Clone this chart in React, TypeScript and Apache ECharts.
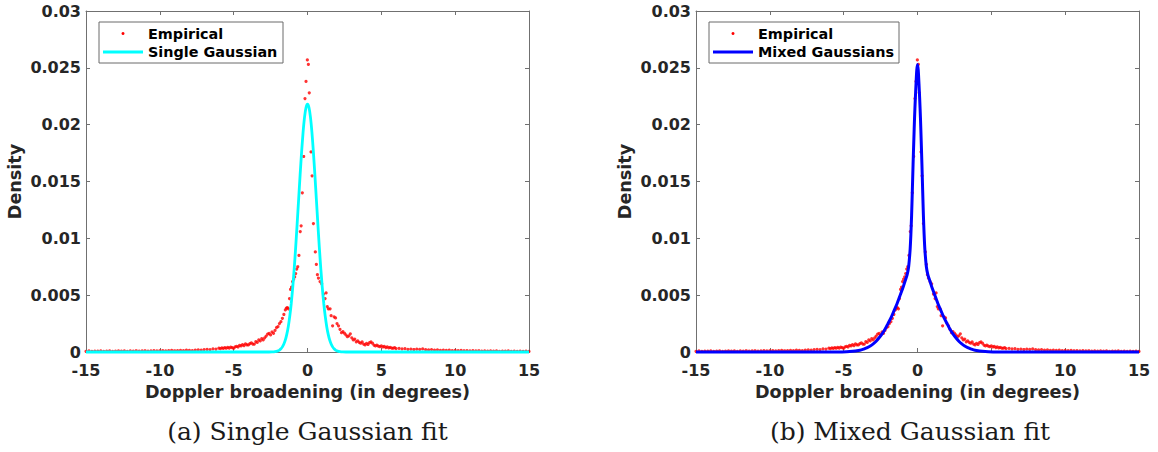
import React, { useEffect, useRef } from "react";
import * as echarts from "echarts";

// ---------- data ----------
const X_TICKS_MIN = -15;
const X_TICKS_MAX = 15;
const X_INTERVAL = 5;
const Y_MIN = 0;
const Y_MAX = 0.03;
const Y_INTERVAL = 0.005;

const X_TITLE = "Doppler broadening (in degrees)";
const Y_TITLE = "Density";
const CAPTIONS = ["(a) Single Gaussian fit", "(b) Mixed Gaussian fit"];
const LEGEND_EMPIRICAL = "Empirical";
const FIT_NAMES = ["Single Gaussian", "Mixed Gaussians"];

// empirical density points [degrees, density]
const empiricalLeftTail: number[][] = [
  [-15.0, 0.00006], [-14.8, 0.00009], [-14.6, 0.00005], [-14.4, 0.00008], [-14.2, 0.00007],
  [-14.0, 0.0001], [-13.8, 0.00006], [-13.6, 0.00008], [-13.4, 0.00009], [-13.2, 0.00005],
  [-13.0, 0.00008], [-12.8, 0.0001], [-12.6, 0.00007], [-12.4, 0.00009], [-12.2, 0.00006],
  [-12.0, 0.0001], [-11.8, 0.00008], [-11.6, 0.00011], [-11.4, 0.00007], [-11.2, 0.00009],
  [-11.0, 0.00011], [-10.8, 0.00008], [-10.6, 0.0001], [-10.4, 0.00012], [-10.2, 0.00009],
  [-10.0, 0.00011], [-9.8, 0.00013], [-9.6, 0.0001], [-9.4, 0.00012], [-9.2, 0.00014],
  [-9.0, 0.00011], [-8.8, 0.00013], [-8.6, 0.00015], [-8.4, 0.00012], [-8.2, 0.00016],
  [-8.0, 0.00014], [-7.8, 0.00012], [-7.6, 0.00017], [-7.4, 0.00019], [-7.2, 0.00016],
  [-7.0, 0.00021], [-6.8, 0.00024], [-6.6, 0.0002], [-6.4, 0.00028], [-6.2, 0.00026],
];
const empiricalLeftShoulder: number[][] = [
  [-6.0, 0.00034], [-5.9, 0.0003], [-5.8, 0.00036], [-5.7, 0.00032], [-5.6, 0.00038],
  [-5.5, 0.00033], [-5.4, 0.0004], [-5.3, 0.00035], [-5.2, 0.00042], [-5.1, 0.00039],
  [-5.0, 0.00033], [-4.9, 0.00046], [-4.8, 0.0005], [-4.7, 0.00044], [-4.6, 0.00058],
  [-4.5, 0.00053], [-4.4, 0.00064], [-4.3, 0.00056], [-4.2, 0.00071], [-4.1, 0.00062],
  [-4.0, 0.00062], [-3.9, 0.00074], [-3.8, 0.00081], [-3.7, 0.0007], [-3.6, 0.0007],
  [-3.5, 0.00092], [-3.4, 0.00084], [-3.3, 0.00106], [-3.2, 0.00097], [-3.1, 0.00118],
  [-3.0, 0.00106], [-2.9, 0.00125], [-2.8, 0.0014], [-2.7, 0.00158], [-2.6, 0.00164],
  [-2.5, 0.0015], [-2.4, 0.00176], [-2.3, 0.00164], [-2.2, 0.0019], [-2.1, 0.00215],
  [-2.0, 0.00223], [-1.9, 0.0025], [-1.8, 0.00267], [-1.7, 0.00296], [-1.6, 0.0033],
];
const empiricalCore: number[][] = [
  [-1.5, 0.0037], [-1.43, 0.00385], [-1.36, 0.0039], [-1.29, 0.0038], [-1.22, 0.0047],
  [-1.15, 0.0055], [-1.08, 0.0057], [-1.01, 0.0062], [-0.94, 0.0064], [-0.87, 0.0066],
  [-0.8, 0.0069], [-0.73, 0.0073], [-0.66, 0.0075], [-0.58, 0.0085], [-0.49, 0.0106],
  [-0.43, 0.0111], [-0.35, 0.014], [-0.26, 0.0172], [-0.17, 0.0223], [-0.1, 0.0238],
  [-0.01, 0.0257], [0.06, 0.0253], [0.12, 0.0228], [0.24, 0.0176], [0.31, 0.0155],
  [0.4, 0.0113], [0.53, 0.0088], [0.6, 0.0077], [0.67, 0.0068], [0.74, 0.0065],
  [0.85, 0.0062], [0.96, 0.006], [1.08, 0.0051], [1.19, 0.0047], [1.26, 0.0052],
  [1.34, 0.004], [1.41, 0.0038], [1.53, 0.0038],
];
const empiricalRightShoulder: number[][] = [
  [1.6, 0.0032], [1.7, 0.0023], [1.8, 0.0031], [1.9, 0.003], [2.0, 0.0025],
  [2.1, 0.0023], [2.2, 0.002], [2.3, 0.0017], [2.4, 0.0018], [2.5, 0.00165],
  [2.6, 0.0015], [2.7, 0.00135], [2.8, 0.00142], [2.9, 0.0016], [3.0, 0.00125],
  [3.1, 0.00106], [3.2, 0.00114], [3.3, 0.0009], [3.4, 0.00098], [3.5, 0.00085],
  [3.6, 0.00077], [3.7, 0.00089], [3.8, 0.0007], [3.9, 0.00062], [4.0, 0.00075],
  [4.1, 0.00066], [4.2, 0.00082], [4.3, 0.0009], [4.4, 0.00077], [4.5, 0.00061],
  [4.6, 0.00053], [4.7, 0.0006], [4.8, 0.00051], [4.9, 0.00047], [5.0, 0.00054],
  [5.1, 0.00044], [5.2, 0.00049], [5.3, 0.00039], [5.4, 0.00045], [5.5, 0.00037],
  [5.6, 0.00041], [5.7, 0.00035], [5.8, 0.00033], [5.9, 0.00038], [6.0, 0.0003],
];
const empiricalRightTail: number[][] = [
  [6.2, 0.00032], [6.4, 0.00027], [6.6, 0.00029], [6.8, 0.00024], [7.0, 0.00026],
  [7.2, 0.00022], [7.4, 0.00025], [7.6, 0.00023], [7.8, 0.00027], [8.0, 0.0002],
  [8.2, 0.00018], [8.4, 0.00021], [8.6, 0.00017], [8.8, 0.00019], [9.0, 0.00015],
  [9.2, 0.00017], [9.4, 0.00014], [9.6, 0.00016], [9.8, 0.00013], [10.0, 0.00015],
  [10.2, 0.00012], [10.4, 0.00014], [10.6, 0.00011], [10.8, 0.00013], [11.0, 0.0001],
  [11.2, 0.00012], [11.4, 0.00009], [11.6, 0.00011], [11.8, 0.00008], [12.0, 0.0001],
  [12.2, 0.00008], [12.4, 0.00009], [12.6, 0.00007], [12.8, 0.00009], [13.0, 0.00006],
  [13.2, 0.00008], [13.4, 0.00007], [13.6, 0.00009], [13.8, 0.00006], [14.0, 0.00008],
  [14.2, 0.00005], [14.4, 0.00007], [14.6, 0.00006], [14.8, 0.00008], [15.0, 0.00005],
];

// fitted single Gaussian curve [degrees, density]
const singleGaussian: number[][] = [
  [-15, 0], [-3, 0], [-2.6, 0.000002], [-2.4, 0.000009], [-2.2, 0.000033], [-2.0, 0.0001],
  [-1.9, 0.00017], [-1.8, 0.00028], [-1.7, 0.00045], [-1.6, 0.0007], [-1.5, 0.00106],
  [-1.4, 0.00157], [-1.3, 0.00225], [-1.2, 0.00315], [-1.1, 0.00429], [-1.0, 0.00569],
  [-0.9, 0.00734], [-0.8, 0.00923], [-0.7, 0.01129], [-0.6, 0.01344], [-0.5, 0.01558],
  [-0.4, 0.01758], [-0.3, 0.01932], [-0.2, 0.02066], [-0.1, 0.02151], [0, 0.0218],
  [0.1, 0.02151], [0.2, 0.02066], [0.3, 0.01932], [0.4, 0.01758], [0.5, 0.01558],
  [0.6, 0.01344], [0.7, 0.01129], [0.8, 0.00923], [0.9, 0.00734], [1.0, 0.00569],
  [1.1, 0.00429], [1.2, 0.00315], [1.3, 0.00225], [1.4, 0.00157], [1.5, 0.00106],
  [1.6, 0.0007], [1.7, 0.00045], [1.8, 0.00028], [1.9, 0.00017], [2.0, 0.0001],
  [2.2, 0.000033], [2.4, 0.000009], [2.6, 0.000002], [3, 0], [15, 0],
];

// fitted mixture-of-Gaussians curve [degrees, density]
const mixedGaussians: number[][] = [
  [-15, 0], [-6.5, 0], [-5.5, 0.000005], [-4.8, 0.000025], [-4.4, 0.00006], [-4.0, 0.00013],
  [-3.8, 0.00019], [-3.6, 0.00028], [-3.4, 0.00039], [-3.2, 0.00053], [-3.0, 0.00072],
  [-2.8, 0.00095], [-2.6, 0.00125], [-2.4, 0.0016], [-2.2, 0.002], [-2.0, 0.0025],
  [-1.8, 0.003], [-1.6, 0.0036], [-1.4, 0.0042], [-1.2, 0.0049], [-1.0, 0.0056],
  [-0.9, 0.006], [-0.8, 0.0064], [-0.7, 0.0068], [-0.6, 0.0075], [-0.5, 0.009],
  [-0.45, 0.0103], [-0.4, 0.012], [-0.35, 0.0142], [-0.3, 0.0165], [-0.25, 0.0186],
  [-0.2, 0.0206], [-0.15, 0.0222], [-0.1, 0.0236], [-0.05, 0.0248], [0, 0.0253],
  [0.05, 0.0248], [0.1, 0.0236], [0.15, 0.0222], [0.2, 0.0206], [0.25, 0.0186],
  [0.3, 0.0165], [0.35, 0.0142], [0.4, 0.012], [0.45, 0.0103], [0.5, 0.009],
  [0.6, 0.0075], [0.7, 0.0068], [0.8, 0.0064], [0.9, 0.006], [1.0, 0.0056],
  [1.2, 0.0049], [1.4, 0.0042], [1.6, 0.0036], [1.8, 0.003], [2.0, 0.0025],
  [2.2, 0.002], [2.4, 0.0016], [2.6, 0.00125], [2.8, 0.00095], [3.0, 0.00072],
  [3.2, 0.00053], [3.4, 0.00039], [3.6, 0.00028], [3.8, 0.00019], [4.0, 0.00013],
  [4.4, 0.00006], [4.8, 0.000025], [5.5, 0.000005], [6.5, 0], [15, 0],
];

// ---------- styling ----------
const AXIS_COLOR = "#707070";
const TEXT_COLOR = "#262626";
const SANS = '"DejaVu Sans", sans-serif';
const SERIF = '"DejaVu Serif", serif';
const FIT_COLORS = ["#00ffff", "#0000ff"];
const FIT_WIDTHS = [2.8, 3];
const EMP_COLOR = "#ff0000";

const GRID_LEFTS = [86, 696];
const GRID_TOP = 11;
const GRID_W = 443;
const GRID_H = 341;
const CAPTION_X = [307.5, 910];

const empirical = [
  ...empiricalLeftTail,
  ...empiricalLeftShoulder,
  ...empiricalCore,
  ...empiricalRightShoulder,
  ...empiricalRightTail,
];

function yFmt(v: number) {
  return String(Number(v.toFixed(3)));
}

function buildOption() {
  const grids = GRID_LEFTS.map((l) => ({
    left: l,
    top: GRID_TOP,
    width: GRID_W,
    height: GRID_H,
    containLabel: false,
  }));

  const xAxis: any[] = [];
  const yAxis: any[] = [];
  GRID_LEFTS.forEach((_, g) => {
    const common = {
      gridIndex: g,
      type: "value",
      min: X_TICKS_MIN,
      max: X_TICKS_MAX,
      interval: X_INTERVAL,
      axisLine: { show: true, onZero: false, lineStyle: { color: AXIS_COLOR, width: 1 } },
      axisTick: { show: true, inside: true, length: 4, lineStyle: { color: AXIS_COLOR } },
      splitLine: { show: false },
    };
    xAxis.push({
      ...common,
      position: "bottom",
      axisLabel: {
        show: true,
        margin: 10,
        lineHeight: 16,
        color: TEXT_COLOR,
        fontFamily: SANS,
        fontWeight: "bold",
        fontSize: 16,
      },
      name: X_TITLE,
      nameLocation: "middle",
      nameGap: 29,
      nameTextStyle: { color: TEXT_COLOR, fontFamily: SANS, fontWeight: "bold", fontSize: 17.6 },
    });
    xAxis.push({ ...common, position: "top", axisLabel: { show: false } });

    const ycommon = {
      gridIndex: g,
      type: "value",
      min: Y_MIN,
      max: Y_MAX,
      interval: Y_INTERVAL,
      axisLine: { show: true, onZero: false, lineStyle: { color: AXIS_COLOR, width: 1 } },
      axisTick: { show: true, inside: true, length: 4, lineStyle: { color: AXIS_COLOR } },
      splitLine: { show: false },
    };
    yAxis.push({
      ...ycommon,
      position: "left",
      axisLabel: {
        show: true,
        margin: 5,
        lineHeight: 16,
        color: TEXT_COLOR,
        fontFamily: SANS,
        fontWeight: "bold",
        fontSize: 16,
        formatter: yFmt,
      },
      name: Y_TITLE,
      nameLocation: "middle",
      nameGap: 62,
      nameRotate: 90,
      nameTextStyle: { color: TEXT_COLOR, fontFamily: SANS, fontWeight: "bold", fontSize: 17.6 },
    });
    yAxis.push({ ...ycommon, position: "right", axisLabel: { show: false } });
  });

  const series: any[] = [];
  const fits = [singleGaussian, mixedGaussians];
  GRID_LEFTS.forEach((_, g) => {
    series.push({
      name: LEGEND_EMPIRICAL,
      type: "scatter",
      xAxisIndex: g * 2,
      yAxisIndex: g * 2,
      data: empirical,
      symbol: "circle",
      symbolSize: 3.2,
      itemStyle: { color: EMP_COLOR },
      clip: false,
      z: 2,
    });
    series.push({
      name: FIT_NAMES[g],
      type: "line",
      xAxisIndex: g * 2,
      yAxisIndex: g * 2,
      data: fits[g],
      showSymbol: false,
      symbol: "none",
      smooth: 0.25,
      clip: false,
      lineStyle: { color: FIT_COLORS[g], width: FIT_WIDTHS[g] },
      z: 3,
    });
  });

  const graphic: any[] = [];
  GRID_LEFTS.forEach((gl, g) => {
    const bx = gl + 13;
    const bw = g === 0 ? 184 : 190;
    graphic.push({
      type: "rect",
      shape: { x: bx, y: 22, width: bw, height: 41 },
      style: { fill: "#ffffff", stroke: "#6a6a6a", lineWidth: 1 },
      z: 10,
    });
    const lx0 = bx + 4;
    const lx1 = bx + 44;
    graphic.push({
      type: "circle",
      shape: { cx: (lx0 + lx1) / 2, cy: 33.5, r: 1.5 },
      style: { fill: EMP_COLOR },
      z: 11,
    });
    graphic.push({
      type: "line",
      shape: { x1: lx0, y1: 52, x2: lx1, y2: 52 },
      style: { stroke: FIT_COLORS[g], lineWidth: FIT_WIDTHS[g] },
      z: 11,
    });
    graphic.push({
      type: "text",
      x: bx + 49,
      y: 34,
      style: {
        text: LEGEND_EMPIRICAL,
        fill: "#000000",
        fontFamily: SANS,
        fontWeight: "bold",
        fontSize: 14.4,
        align: "left",
        verticalAlign: "middle",
      },
      z: 11,
    });
    graphic.push({
      type: "text",
      x: bx + 49,
      y: 52,
      style: {
        text: FIT_NAMES[g],
        fill: "#000000",
        fontFamily: SANS,
        fontWeight: "bold",
        fontSize: 14.4,
        align: "left",
        verticalAlign: "middle",
      },
      z: 11,
    });
    graphic.push({
      type: "text",
      x: CAPTION_X[g],
      y: 431,
      style: {
        text: CAPTIONS[g],
        fill: "#1a1a1a",
        fontFamily: SERIF,
        fontSize: 25,
        align: "center",
        verticalAlign: "middle",
      },
    });
  });

  return {
    animation: false,
    backgroundColor: "#ffffff",
    grid: grids,
    xAxis,
    yAxis,
    series,
    graphic,
  };
}

export default function App() {
  const ref = useRef<HTMLDivElement | null>(null);
  useEffect(() => {
    if (!ref.current) return;
    const chart = echarts.init(ref.current, null, { renderer: "svg" });
    chart.setOption(buildOption() as any);
    return () => {
      chart.dispose();
    };
  }, []);
  return (
    <div
      ref={ref}
      style={{ position: "absolute", left: 0, top: 0, width: 1158, height: 452 }}
    />
  );
}
